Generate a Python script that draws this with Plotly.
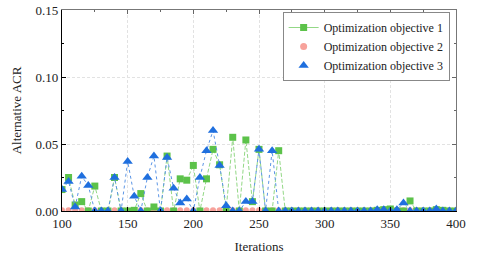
import plotly.graph_objects as go

iterations = list(range(100, 401, 5))

obj1 = [0.016, 0.025, 0.0045, 0.007, 0.0, 0.0186, 0.0, 0.0, 0.025, 0.0,
        0.0, 0.0005, 0.013, 0.0, 0.003, 0.0, 0.041, 0.0, 0.024, 0.023,
        0.034, 0.0, 0.024, 0.046, 0.0345, 0.001, 0.055, 0.0, 0.053, 0.007,
        0.046, 0.0, 0.0, 0.045, 0.0, 0.0, 0.0, 0.0, 0.0, 0.0,
        0.0, 0.0, 0.0, 0.0, 0.0, 0.0, 0.0, 0.0, 0.0005, 0.001,
        0.0015, 0.0, 0.0, 0.0075, 0.0, 0.0, 0.0, 0.001, 0.0005, 0.0, 0.0]

obj2 = [0.0005, 0.0005, 0.0005, 0.0005, 0.0005, 0.0005, 0.0005, 0.0005, 0.0005, 0.0005,
        0.0005, 0.0005, 0.0005, 0.0005, 0.0005, 0.0005, 0.0005, 0.0005, 0.0005, 0.0005,
        0.0005, 0.0005, 0.0005, 0.0005, 0.0005, 0.0005, 0.0005, 0.0005, 0.0005, 0.0005,
        0.0005, 0.0005, 0.0005, 0.0005, 0.0005, 0.0005, 0.0005, 0.0005, 0.0005, 0.0005,
        0.0005, 0.0005, 0.0005, 0.0005, 0.0005, 0.0005, 0.0005, 0.0005, 0.0005, 0.0005,
        0.0005, 0.0005, 0.0005, 0.0005, 0.0005, 0.0005, 0.0005, 0.0005, 0.0005, 0.0005, 0.0005]

obj3 = [0.016, 0.022, 0.003, 0.026, 0.019, 0.0, 0.0, 0.0, 0.025, 0.0,
        0.037, 0.011, 0.0, 0.025, 0.041, 0.0, 0.040, 0.017, 0.006, 0.009,
        0.0, 0.025, 0.045, 0.060, 0.034, 0.004, 0.0, 0.0, 0.007, 0.007,
        0.046, 0.0, 0.045, 0.0, 0.0, 0.0, 0.0, 0.0, 0.0, 0.0,
        0.0, 0.0, 0.0, 0.0, 0.0, 0.0, 0.0, 0.0, 0.001, 0.001,
        0.0, 0.001, 0.006, 0.0, 0.0, 0.0, 0.0, 0.0015, 0.0, 0.0, 0.0]

names = ["Optimization objective 1", "Optimization objective 2", "Optimization objective 3"]

GREEN = "#5cc24a"
GREEN_LINE = "#93d886"
PINK = "#f7a29b"
BLUE = "#1f6fde"
BLUE_LINE = "#5b95e6"

FONT = "Liberation Serif"

fig = go.Figure()

fig.add_trace(go.Scatter(x=iterations, y=obj2, mode="markers",
                         marker=dict(symbol="circle", size=6, color=PINK),
                         showlegend=False))
fig.add_trace(go.Scatter(x=iterations, y=obj1, mode="lines+markers",
                         line=dict(color=GREEN_LINE, width=1, dash="4px,2px"),
                         marker=dict(symbol="square", size=7, color=GREEN),
                         showlegend=False))
fig.add_trace(go.Scatter(x=iterations, y=obj3, mode="lines+markers",
                         line=dict(color=BLUE_LINE, width=1, dash="dot"),
                         marker=dict(symbol="triangle-up", size=9, color=BLUE),
                         showlegend=False))

# legend entries
fig.add_trace(go.Scatter(x=[None], y=[None], mode="lines+markers", name=names[0],
                         line=dict(color=GREEN_LINE, width=1),
                         marker=dict(symbol="square", size=7, color=GREEN)))
fig.add_trace(go.Scatter(x=[None], y=[None], mode="markers", name=names[1],
                         marker=dict(symbol="circle", size=7, color=PINK)))
fig.add_trace(go.Scatter(x=[None], y=[None], mode="markers", name=names[2],
                         marker=dict(symbol="triangle-up", size=9, color=BLUE)))

fig.add_trace(go.Scatter(x=[None], y=[None], xaxis="x2", yaxis="y2",
                         showlegend=False, hoverinfo="skip"))

fig.update_layout(
    width=482, height=255,
    margin=dict(l=62, r=26, t=10, b=44),
    paper_bgcolor="white", plot_bgcolor="white",
    font=dict(family=FONT, size=13, color="#222"),
    legend=dict(x=0.56, y=0.99, xanchor="left", yanchor="top",
                bgcolor="white", bordercolor="#888", borderwidth=1,
                font=dict(family=FONT, size=12, color="#222"),
                tracegroupgap=0, itemwidth=30),
    xaxis=dict(range=[100, 400], tickvals=[100, 150, 200, 250, 300, 350, 400],
               ticks="inside", ticklen=4, tickcolor="black", linecolor="black",
               linewidth=1.3, showline=True, showgrid=True, gridcolor="#e2e2e2",
               griddash="3px,2px", gridwidth=1, zeroline=False, automargin=False,
               minor=dict(dtick=25, ticks="inside", ticklen=2, tickcolor="black", showgrid=False),
               title=dict(text="Iterations", font=dict(family=FONT, size=13), standoff=12),
               tickfont=dict(family=FONT, size=13)),
    yaxis=dict(range=[0, 0.15], tickvals=[0, 0.05, 0.10, 0.15], tickformat=".2f",
               ticks="inside", ticklen=4, tickcolor="black", linecolor="black",
               linewidth=1.3, showline=True, showgrid=True, gridcolor="#e2e2e2",
               griddash="3px,2px", gridwidth=1, zeroline=False, automargin=False,
               minor=dict(dtick=0.025, ticks="inside", ticklen=2, tickcolor="black", showgrid=False),
               title=dict(text="Alternative ACR", font=dict(family=FONT, size=13), standoff=10),
               tickfont=dict(family=FONT, size=13)),
    xaxis2=dict(overlaying="x", side="top", range=[100, 400],
                tickvals=[100, 150, 200, 250, 300, 350, 400], showticklabels=False,
                ticks="inside", ticklen=4, tickcolor="#666", linecolor="#777", linewidth=1.3,
                showline=True, showgrid=False, zeroline=False, automargin=False,
                minor=dict(dtick=25, ticks="inside", ticklen=2, tickcolor="#666")),
    yaxis2=dict(overlaying="y", side="right", range=[0, 0.15],
                tickvals=[0, 0.05, 0.10, 0.15], showticklabels=False,
                ticks="inside", ticklen=4, tickcolor="#666", linecolor="#777", linewidth=1.3,
                showline=True, showgrid=False, zeroline=False, automargin=False,
                minor=dict(dtick=0.025, ticks="inside", ticklen=2, tickcolor="#666")),
)

fig.write_html("out.html", config={"displayModeBar": False},
               post_script="document.body.style.margin='0';document.body.style.padding='0';")
